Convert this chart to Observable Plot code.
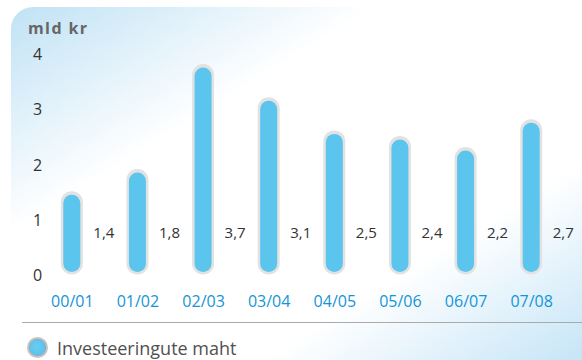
<!DOCTYPE html>
<html>
<head>
<meta charset="utf-8">
<script src="https://cdn.jsdelivr.net/npm/d3@7"></script>
<script src="https://cdn.jsdelivr.net/npm/@observablehq/plot@0.6"></script>
<style>
  html, body { margin: 0; padding: 0; background: #fff; }
  #wrap { position: relative; width: 582px; height: 360px; overflow: hidden; font-family: "Open Sans", "Noto Sans", sans-serif; }
  #panel {
    position: absolute; left: 11px; top: 7px; right: 0; bottom: 0;
    border-top-left-radius: 22px;
    background: linear-gradient(to bottom right, #c0e2f5 0%, #ffffff 32%, #ffffff 72%, #c6e5f7 100%);
  }
  #chart { position: absolute; left: 0; top: 0; }
  #chart svg { background: transparent; overflow: visible; }
  #unit { position: absolute; left: 28px; top: 18px; font-size: 16px; font-weight: 700; letter-spacing: 1.4px; color: #666; line-height: 20px; }
  #rule { position: absolute; left: 22px; right: 0; top: 321.5px; height: 1.5px; background: #aaaaaa; }
  #legend { position: absolute; left: 27px; top: 337px; display: flex; align-items: center; }
  #legend .dot { width: 17px; height: 17px; border-radius: 50%; background: radial-gradient(circle at 45% 45%, #6ccdf2, #4fbde9); border: 2.5px solid #c4c4c4; box-shadow: inset 0 0 0 0.5px #9a9a9a; }
  #legend .txt { margin-left: 9px; font-size: 18px; color: #505050; line-height: 20px; }
</style>
</head>
<body>
<div id="wrap">
  <div id="panel"></div>
  <div id="chart"></div>
  <div id="unit"></div>
  <div id="rule"></div>
  <div id="legend"><div class="dot"></div><div class="txt"></div></div>
</div>
<script>
// Investment volume per season, billion kroons
const seasons = ["00/01", "01/02", "02/03", "03/04", "04/05", "05/06", "06/07", "07/08"];
const investment = [1.4, 1.8, 3.7, 3.1, 2.5, 2.4, 2.2, 2.7];
const yTicks = [0, 1, 2, 3, 4];
const unitLabel = "mld kr";
const legendLabel = "Investeeringute maht";

const rows = seasons.map((season, i) => ({season, value: investment[i]}));
const fmt = v => v.toFixed(1).replace(".", ",");

const barBlue = "#5cc5ee";
const ringGrey = "#e2e2e2";
const tickBlue = "#1595d6";

const chart = Plot.plot({
  width: 582,
  height: 310,
  marginLeft: 39,
  marginRight: 18,
  marginTop: 51,
  marginBottom: 38,
  style: {background: "transparent", fontFamily: "'Open Sans', 'Noto Sans', sans-serif"},
  x: {domain: seasons, padding: 0, round: false},
  y: {domain: [0, 4]},
  marks: [
    // soft grey capsule behind each bar
    Plot.barY(rows, {
      x: "season", y: "value",
      fill: ringGrey,
      insetLeft: 21.8, insetRight: 21.8,
      insetTop: -3.5, insetBottom: -2.5,
      rx: 11
    }),
    // blue bar
    Plot.barY(rows, {
      x: "season", y: "value",
      fill: barBlue,
      insetLeft: 24.3, insetRight: 24.3,
      rx: 8.5
    }),
    // value labels beside the bars
    Plot.text(rows, {
      x: "season", y: () => 0,
      text: d => fmt(d.value),
      textAnchor: "start",
      dx: 21, dy: -39.5,
      fontSize: 15,
      fill: "#333"
    }),
    Plot.axisY({
      ticks: yTicks,
      tickFormat: d => String(d),
      tickSize: 0,
      tickPadding: 2,
      textAnchor: "middle",
      dy: 3.5,
      fontSize: 16,
      fill: "#333",
      label: null
    }),
    Plot.axisX({
      tickSize: 0,
      tickPadding: 23,
      fontSize: 16,
      fill: tickBlue,
      label: null
    })
  ]
});

document.getElementById("chart").appendChild(chart);
document.getElementById("unit").textContent = unitLabel;
document.querySelector("#legend .txt").textContent = legendLabel;
</script>
</body>
</html>
